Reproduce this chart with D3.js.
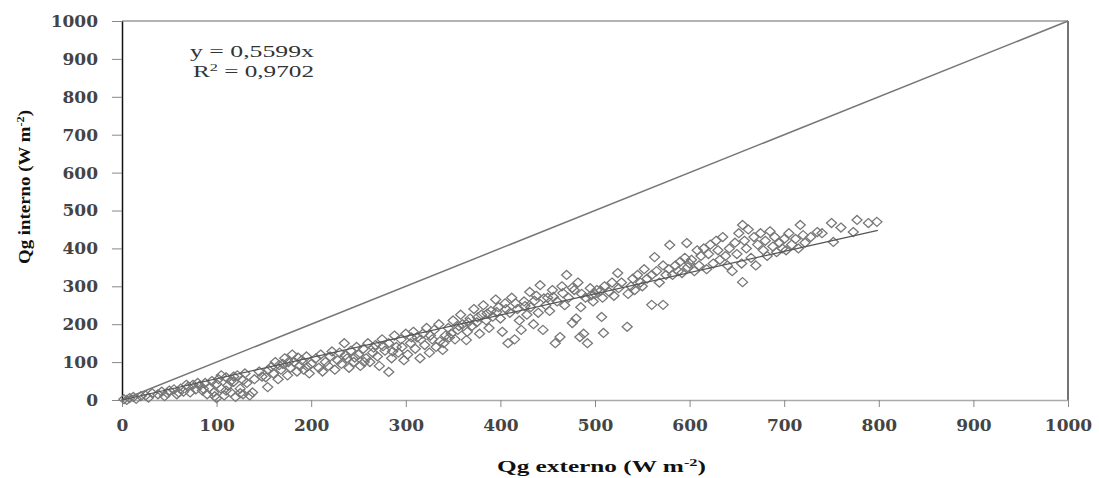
<!DOCTYPE html>
<html>
<head>
<meta charset="utf-8">
<script src="https://cdn.jsdelivr.net/npm/d3@7"></script>
<style>
  body { margin: 0; background: #fff; }
  svg { display: block; }
</style>
</head>
<body>
<div id="chart"></div>
<script>
// axis ticks
const xTicks = [0, 100, 200, 300, 400, 500, 600, 700, 800, 900, 1000];
const yTicks = [0, 100, 200, 300, 400, 500, 600, 700, 800, 900, 1000];

// regression (through origin) and its fit
const slope = 0.5599;
const rSquared = "0,9702";
const trendRange = [0, 799];
const identityRange = [0, 1000];

// Qg externo vs Qg interno
const scatterPoints = [
  [2,2],[5,0],[8,5],[12,8],[15,3],[20,10],[25,12],[28,6],[32,18],[38,15],[42,22],[45,10],[50,25],[48,18],
  [55,28],[58,15],[62,30],[65,22],[70,35],[72,20],[75,40],[78,28],[82,38],[85,25],[88,45],[90,15],[92,32],
  [95,50],[97,20],[100,42],[98,10],[100,5],
  [102,55],[105,30],[108,12],[110,60],[112,38],[115,20],[118,48],[120,8],[122,65],[125,30],[128,15],[130,70],
  [132,45],[135,12],[138,20],[140,55],[105,65],[115,50],[110,25],[125,18],
  [145,75],[154,34],[152,60],[158,88],[160,70],[162,100],[165,55],[168,80],[170,95],[172,110],[175,65],
  [178,85],[180,120],[182,100],[185,75],[188,90],[190,105],[192,80],[195,115],[198,70],[200,95],
  [205,110],[208,85],[210,120],[212,75],[215,100],[218,90],[220,115],[225,80],[228,105],[230,125],[232,95],
  [235,150],[238,110],[240,85],[242,130],[245,100],[248,140],[250,120],[252,90],[255,135],[258,110],
  [260,150],[262,100],[265,125],[268,145],[270,115],[272,90],[275,160],[278,130],[282,74],[282,150],
  [285,110],[288,170],[290,140],[292,125],[295,160],[298,105],[300,175],
  [302,120],[305,150],[308,180],[310,135],[312,165],[315,110],[318,175],[320,145],[322,190],[325,125],
  [328,160],[330,185],[332,140],[335,200],[339,132],[340,150],[342,170],[345,190],[348,175],[350,210],
  [352,160],[355,185],[358,225],[360,200],[364,158],[365,180],[368,215],[370,195],[372,240],[375,205],
  [378,175],[380,225],[382,250],[385,210],[388,190],[390,235],[392,220],[395,265],[398,245],[400,215],
  [402,180],[405,255],[408,150],[410,230],[412,270],[415,160],[418,240],[420,210],[422,185],[425,260],
  [428,225],[431,285],[432,245],[435,200],[438,275],[440,230],[442,303],[445,185],[448,250],[450,270],
  [452,235],[455,290],[458,150],[460,260],[463,166],[465,300],[468,250],[470,330],[472,270],[476,203],
  [478,290],[480,215],[482,310],[484,166],[485,245],[488,175],[490,270],[492,150],[495,295],[498,260],[500,280],
  [502,290],[507,219],[508,270],[510,300],[509,177],[515,285],[518,310],[520,275],[524,335],[525,295],
  [528,310],[534,193],[535,280],[538,300],[540,320],[542,290],[545,330],[548,310],[550,300],[552,345],
  [555,320],[560,251],[560,330],[563,377],[565,340],[568,310],[572,251],[572,355],[575,330],[578,345],
  [579,409],[582,330],[585,355],[588,340],[590,365],[592,335],[595,375],[597,414],[598,350],[600,360],
  [602,370],[605,340],[608,395],[610,355],[612,380],[615,400],[618,345],[620,385],[622,410],[625,360],
  [628,420],[630,395],[632,370],[635,430],[638,380],[640,355],[642,400],[645,340],[648,415],[650,385],
  [652,440],[655,360],[656,462],[656,311],[658,420],[660,400],[662,450],[665,375],[668,430],[670,355],
  [672,410],[675,440],[678,395],[680,420],[682,380],[685,445],[688,405],[690,430],[692,390],[695,415],
  [698,400],[700,425],
  [702,395],[705,440],[708,410],[712,425],[715,400],[717,462],[720,435],[722,415],[728,430],[735,443],
  [740,440],[750,467],[752,417],[760,455],[773,443],[777,475],[789,467],[798,470],
  [60,20],[68,40],[80,45],[86,30],[118,62],[128,52],[148,62],[155,80],[166,92],[176,100],[186,112],
  [196,88],[222,128],[236,118],[246,112],[256,100],[266,138],[276,142],[286,128],[296,140],[306,165],
  [316,160],[326,170],[336,155],[346,165],[356,195],[366,205],[376,218],[386,228],[396,232],[406,240],
  [416,255],[426,248],[436,262],[446,268],[456,272],[466,282],[476,296],[486,280],[496,276],[506,288]
];

const width = 1099, height = 478;
const plotLeft = 122, plotRight = 1068, plotTop = 21, plotBottom = 400;

const svg = d3.select("#chart").append("svg")
  .attr("width", width)
  .attr("height", height);

const x = d3.scaleLinear().domain([0, 1000]).range([plotLeft, plotRight]);
const y = d3.scaleLinear().domain([0, 1000]).range([plotBottom, plotTop]);

// frame: top and right borders
svg.append("line")
  .attr("x1", plotLeft).attr("x2", plotRight)
  .attr("y1", plotTop).attr("y2", plotTop)
  .attr("stroke", "#999").attr("stroke-width", 1.5);
svg.append("line")
  .attr("x1", plotRight).attr("x2", plotRight)
  .attr("y1", plotTop).attr("y2", plotBottom)
  .attr("stroke", "#444").attr("stroke-width", 1.5);

// bottom axis
const xAxis = svg.append("g")
  .attr("transform", `translate(0,${plotBottom})`)
  .call(d3.axisBottom(x).tickValues(xTicks).tickFormat(d3.format("d"))
    .tickSize(7).tickPadding(12).tickSizeOuter(0));
xAxis.select(".domain").attr("stroke", "#aaa").attr("stroke-width", 1.5);
xAxis.selectAll(".tick line").attr("stroke", "#888");

// left axis
const yAxis = svg.append("g")
  .attr("transform", `translate(${plotLeft},0)`)
  .call(d3.axisLeft(y).tickValues(yTicks).tickFormat(d3.format("d"))
    .tickSize(10).tickPadding(14).tickSizeOuter(0));
yAxis.select(".domain").attr("stroke", "#111").attr("stroke-width", 1.5);
yAxis.selectAll(".tick line").attr("stroke", "#888");

svg.selectAll(".tick text")
  .attr("font-family", "DejaVu Serif")
  .attr("font-weight", "bold")
  .attr("font-size", 17)
  .attr("fill", "#444");

// 1:1 line
svg.append("line")
  .attr("x1", x(identityRange[0])).attr("y1", y(identityRange[0]))
  .attr("x2", x(identityRange[1])).attr("y2", y(identityRange[1]))
  .attr("stroke", "#777").attr("stroke-width", 1.5);

// scatter of open diamonds
svg.append("g")
  .selectAll("path")
  .data(scatterPoints)
  .enter()
  .append("path")
  .attr("transform", d => `translate(${x(d[0])},${y(d[1])})`)
  .attr("d", "M0,-4.5L5,0L0,4.5L-5,0Z")
  .attr("fill", "none")
  .attr("stroke", "#777")
  .attr("stroke-width", 1.3);

// trend line
svg.append("line")
  .attr("x1", x(trendRange[0])).attr("y1", y(slope * trendRange[0]))
  .attr("x2", x(trendRange[1])).attr("y2", y(slope * trendRange[1]))
  .attr("stroke", "#555").attr("stroke-width", 1.2);

// equation
const eq = svg.append("g")
  .attr("font-family", "Liberation Serif")
  .attr("font-size", 17)
  .attr("fill", "#333");
eq.append("text")
  .attr("x", 190).attr("y", 57)
  .attr("textLength", 124).attr("lengthAdjust", "spacingAndGlyphs")
  .text("y = " + String(slope).replace(".", ",") + "x");
const r2 = eq.append("text")
  .attr("x", 193).attr("y", 77)
  .attr("textLength", 121).attr("lengthAdjust", "spacingAndGlyphs");
r2.append("tspan").text("R");
r2.append("tspan").attr("font-size", 11).attr("dy", -6).text("2");
r2.append("tspan").attr("dy", 6).text(" = " + rSquared);

// axis titles
const xTitle = svg.append("text")
  .attr("x", 497).attr("y", 472)
  .attr("font-family", "Liberation Serif")
  .attr("font-weight", "bold")
  .attr("font-size", 17)
  .attr("fill", "#111")
  .attr("textLength", 209).attr("lengthAdjust", "spacingAndGlyphs");
xTitle.append("tspan").text("Qg externo (W m");
xTitle.append("tspan").attr("font-size", 11).attr("dy", -6).text("-2");
xTitle.append("tspan").attr("dy", 6).text(")");

const yTitle = svg.append("text")
  .attr("transform", "translate(30,264) rotate(-90)")
  .attr("font-family", "Liberation Serif")
  .attr("font-weight", "bold")
  .attr("font-size", 17)
  .attr("fill", "#111")
  .attr("textLength", 154).attr("lengthAdjust", "spacingAndGlyphs");
yTitle.append("tspan").text("Qg interno (W m");
yTitle.append("tspan").attr("font-size", 11).attr("dy", -6).text("-2");
yTitle.append("tspan").attr("dy", 6).text(")");
</script>
</body>
</html>
